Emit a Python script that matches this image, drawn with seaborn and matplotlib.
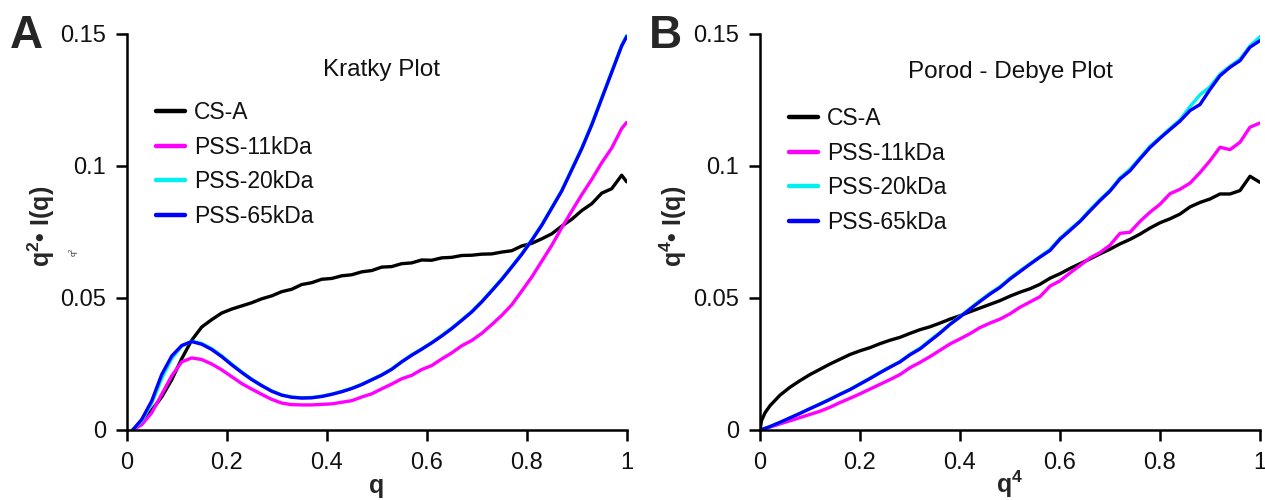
import numpy as np
import pandas as pd
import matplotlib
matplotlib.use("Agg")
import matplotlib.pyplot as plt
import seaborn as sns

# ---------------- data ----------------
series_names = ["CS-A", "PSS-11kDa", "PSS-20kDa", "PSS-65kDa"]
series_colors = ["#000000", "#FF00FF", "#00F0F0", "#0000FF"]

# Panel A : Kratky plot  (x = q, y = q^2 * I(q))
kratky_q = [0.012, 0.03, 0.05, 0.07, 0.09, 0.11, 0.13, 0.15, 0.17, 0.19,
            0.21, 0.23, 0.25, 0.27, 0.29, 0.31, 0.33, 0.35, 0.37, 0.39,
            0.41, 0.43, 0.45, 0.47, 0.49, 0.51, 0.53, 0.55, 0.57, 0.59,
            0.61, 0.63, 0.65, 0.67, 0.69, 0.71, 0.73, 0.75, 0.77, 0.79,
            0.81, 0.83, 0.85, 0.87, 0.89, 0.91, 0.93, 0.95, 0.97, 0.99, 1.0]
kratky_csa = [0.0, 0.003, 0.0075, 0.0125, 0.019, 0.027, 0.034, 0.039, 0.0418, 0.0443,
              0.0458, 0.0470, 0.0482, 0.0497, 0.0508, 0.0524, 0.0533, 0.0551, 0.0558, 0.0571,
              0.0574, 0.0584, 0.0588, 0.0599, 0.0604, 0.0617, 0.0619, 0.0630, 0.0633, 0.0644,
              0.0643, 0.0652, 0.0654, 0.0661, 0.0662, 0.0666, 0.0667, 0.0674, 0.0679, 0.0697,
              0.0707, 0.0724, 0.0743, 0.0772, 0.0798, 0.0831, 0.0857, 0.0897, 0.0914, 0.0965, 0.0940]
kratky_pss11 = [0.0, 0.002, 0.0065, 0.0135, 0.0205, 0.0258, 0.0273, 0.0267, 0.0250, 0.0228,
                0.0202, 0.0176, 0.0155, 0.0135, 0.0116, 0.0102, 0.0096, 0.0095, 0.0095, 0.0097,
                0.0099, 0.0105, 0.0111, 0.0125, 0.0137, 0.0156, 0.0174, 0.0194, 0.0207, 0.0229,
                0.0244, 0.0269, 0.0292, 0.0319, 0.0339, 0.0366, 0.0399, 0.0434, 0.0474, 0.0526,
                0.0579, 0.0639, 0.0699, 0.0766, 0.0829, 0.0891, 0.0949, 0.1012, 0.1068, 0.1142, 0.1165]
kratky_pss20 = [0.0, 0.0035, 0.0100, 0.0195, 0.0270, 0.0318, 0.0336, 0.0328, 0.0308, 0.0281,
                0.0250, 0.0220, 0.0193, 0.0169, 0.0148, 0.0133, 0.0125, 0.0122, 0.0123, 0.0128,
                0.0136, 0.0146, 0.0158, 0.0173, 0.0191, 0.0209, 0.0231, 0.0259, 0.0285, 0.0307,
                0.0331, 0.0358, 0.0386, 0.0417, 0.0449, 0.0487, 0.0529, 0.0572, 0.0619, 0.0667,
                0.0720, 0.0777, 0.0842, 0.0907, 0.0987, 0.1068, 0.1158, 0.1258, 0.1357, 0.1457, 0.1495]
kratky_pss65 = [0.0, 0.0040, 0.0110, 0.0210, 0.0280, 0.0320, 0.0335, 0.0325, 0.0305, 0.0278,
                0.0247, 0.0218, 0.0191, 0.0168, 0.0147, 0.0132, 0.0124, 0.0121, 0.0122, 0.0127,
                0.0135, 0.0145, 0.0157, 0.0172, 0.0190, 0.0208, 0.0230, 0.0258, 0.0283, 0.0306,
                0.0330, 0.0356, 0.0384, 0.0415, 0.0447, 0.0485, 0.0527, 0.0570, 0.0617, 0.0665,
                0.0718, 0.0775, 0.0840, 0.0905, 0.0985, 0.1065, 0.1155, 0.1255, 0.1355, 0.1455, 0.1490]

# Panel B : Porod - Debye plot  (x = q^4, y = q^4 * I(q))
porod_x = [0.0, 0.003, 0.01, 0.02, 0.04, 0.06, 0.08, 0.10, 0.12, 0.14,
           0.16, 0.18, 0.20, 0.22, 0.24, 0.26, 0.28, 0.30, 0.32, 0.34,
           0.36, 0.38, 0.40, 0.42, 0.44, 0.46, 0.48, 0.50, 0.52, 0.54,
           0.56, 0.58, 0.60, 0.62, 0.64, 0.66, 0.68, 0.70, 0.72, 0.74,
           0.76, 0.78, 0.80, 0.82, 0.84, 0.86, 0.88, 0.90, 0.92, 0.94,
           0.96, 0.98, 1.0]
porod_csa = [0.0, 0.0035, 0.0065, 0.0092, 0.0132, 0.0162, 0.0187, 0.0210, 0.0230, 0.0250,
             0.0268, 0.0286, 0.0300, 0.0312, 0.0327, 0.0340, 0.0351, 0.0366, 0.0380, 0.0391,
             0.0405, 0.0420, 0.0433, 0.0448, 0.0462, 0.0476, 0.0490, 0.0507, 0.0522, 0.0535,
             0.0552, 0.0575, 0.0592, 0.0612, 0.0630, 0.0648, 0.0667, 0.0685, 0.0705, 0.0722,
             0.0742, 0.0765, 0.0785, 0.0800, 0.0818, 0.0845, 0.0862, 0.0875, 0.0894, 0.0894,
             0.0907, 0.0961, 0.0938]
porod_pss11 = [0.0, 0.0002, 0.0006, 0.0011, 0.0023, 0.0035, 0.0047, 0.0059, 0.0071, 0.0086,
               0.0104, 0.0120, 0.0137, 0.0155, 0.0173, 0.0191, 0.0210, 0.0236, 0.0256, 0.0278,
               0.0302, 0.0326, 0.0345, 0.0365, 0.0388, 0.0405, 0.0420, 0.0440, 0.0465, 0.0485,
               0.0505, 0.0545, 0.0565, 0.0595, 0.0623, 0.0652, 0.0672, 0.0700, 0.0745, 0.0749,
               0.0790, 0.0825, 0.0855, 0.0895, 0.0912, 0.0935, 0.0975, 0.1020, 0.1071, 0.1062,
               0.1090, 0.1147, 0.1163]
porod_pss20 = [0.0, 0.0002, 0.0006, 0.0013, 0.0029, 0.0046, 0.0063, 0.0081, 0.0099, 0.0117,
               0.0136, 0.0154, 0.0175, 0.0196, 0.0218, 0.0239, 0.0259, 0.0287, 0.0310, 0.0340,
               0.0369, 0.0401, 0.0430, 0.0460, 0.0490, 0.0518, 0.0543, 0.0575, 0.0603, 0.0630,
               0.0657, 0.0684, 0.0726, 0.0760, 0.0792, 0.0834, 0.0873, 0.0908, 0.0955, 0.0988,
               0.1031, 0.1075, 0.1108, 0.1142, 0.1175, 0.1225, 0.1270, 0.1300, 0.1348, 0.1378,
               0.1405, 0.1455, 0.1490]
porod_pss65 = [0.0, 0.0002, 0.0006, 0.0013, 0.0029, 0.0046, 0.0063, 0.0081, 0.0098, 0.0116,
               0.0135, 0.0153, 0.0174, 0.0195, 0.0217, 0.0238, 0.0258, 0.0285, 0.0307, 0.0337,
               0.0367, 0.0400, 0.0428, 0.0458, 0.0487, 0.0515, 0.0540, 0.0572, 0.0600, 0.0628,
               0.0655, 0.0680, 0.0723, 0.0756, 0.0790, 0.0830, 0.0869, 0.0905, 0.0951, 0.0982,
               0.1027, 0.1070, 0.1105, 0.1138, 0.1170, 0.1210, 0.1233, 0.1290, 0.1342, 0.1374,
               0.1399, 0.1450, 0.1475]

x_ticks = [0, 0.2, 0.4, 0.6, 0.8, 1.0]
x_tick_labels = ["0", "0.2", "0.4", "0.6", "0.8", "1"]
y_ticks = [0, 0.05, 0.10, 0.15]
y_tick_labels = ["0", "0.05", "0.1", "0.15"]

# ---------------- build tables ----------------
def long_table(x, ys):
    frames = []
    for name, y in zip(series_names, ys):
        frames.append(pd.DataFrame({"x": x, "y": y, "series": name}))
    return pd.concat(frames, ignore_index=True)

df_a = long_table(kratky_q, [kratky_csa, kratky_pss11, kratky_pss20, kratky_pss65])
df_b = long_table(porod_x, [porod_csa, porod_pss11, porod_pss20, porod_pss65])

# ---------------- style ----------------
sns.set_theme(style="ticks")
plt.rcParams["font.family"] = ["Liberation Sans", "DejaVu Sans"]
plt.rcParams["mathtext.fontset"] = "custom"
plt.rcParams["mathtext.rm"] = "Liberation Sans"
plt.rcParams["mathtext.bf"] = "Liberation Sans:bold"
plt.rcParams["axes.linewidth"] = 1.8

palette = dict(zip(series_names, series_colors))

fig = plt.figure(figsize=(12.65, 5.0), dpi=100)
W, H = 1265.0, 500.0
ax_a = fig.add_axes([126.7 / W, 1 - 430 / H, 500 / W, 396 / H])
ax_b = fig.add_axes([760 / W, 1 - 430 / H, 500 / W, 396 / H])

panels = [
    # ax, df, title, title_xy(axes), xlabel, ylabel, ylabel_x(px), legend_anchor_y
    (ax_a, df_a, "Kratky Plot", (0.51, 0.909), "q", "q$^\\mathbf{2}$• I(q)", 41, 0.853),
    (ax_b, df_b, "Porod - Debye Plot", (0.50, 0.904), "q$^\\mathbf{4}$", "q$^\\mathbf{4}$• I(q)", 673, 0.838),
]

for ax, df, title, txy, xl, yl, ylx, leg_y in panels:
    sns.lineplot(data=df, x="x", y="y", hue="series", hue_order=series_names,
                 palette=palette, sort=False, estimator=None, linewidth=2.4,
                 ax=ax, legend=False)
    ax.set_xlim(0, 1)
    ax.set_ylim(0, 0.15)
    ax.set_xticks(x_ticks)
    ax.set_xticklabels(x_tick_labels)
    ax.set_yticks(y_ticks)
    ax.set_yticklabels(y_tick_labels)
    ax.tick_params(axis="both", direction="out", length=8, width=1.8, labelsize=17,
                   color="black", labelcolor="#111111")
    ax.tick_params(axis="x", pad=8)
    ax.tick_params(axis="y", pad=7)
    for s in ["top", "right"]:
        ax.spines[s].set_visible(False)
    for s in ["left", "bottom"]:
        ax.spines[s].set_color("black")
        ax.spines[s].set_linewidth(1.8)
    ax.set_xlabel("")
    ax.set_ylabel("")
    # axis titles
    pos = ax.get_position()
    xc = (pos.x0 + pos.x1) / 2
    fig.text(xc, 1 - 493 / H, xl, fontsize=18, fontweight="bold", ha="center", va="baseline")
    fig.text(ylx / W, 1 - 226 / H, yl, fontsize=18, fontweight="bold", rotation=90,
             ha="center", va="center")
    ax.text(txy[0], txy[1], title, transform=ax.transAxes, ha="center", va="center",
            fontsize=17.5, color="#111111")
    handles = [plt.Line2D([], [], color=c, lw=3.2) for c in series_colors]
    ax.legend(handles, series_names, loc="upper left", bbox_to_anchor=(0.04, leg_y),
              frameon=False, fontsize=16.5, handlelength=1.25, handletextpad=0.4,
              labelspacing=0.5, borderaxespad=0, labelcolor="#111111")

fig.text(10 / W, 1 - 48 / H, "A", fontsize=33, fontweight="bold", ha="left", va="baseline")
fig.text(649 / W, 1 - 48 / H, "B", fontsize=33, fontweight="bold", ha="left", va="baseline")
fig.text(74 / W, 1 - 252 / H, "q$^2$", fontsize=6, rotation=90, ha="center", va="center",
         color="#333333")

fig.savefig("out.png", dpi=100, facecolor="white")
